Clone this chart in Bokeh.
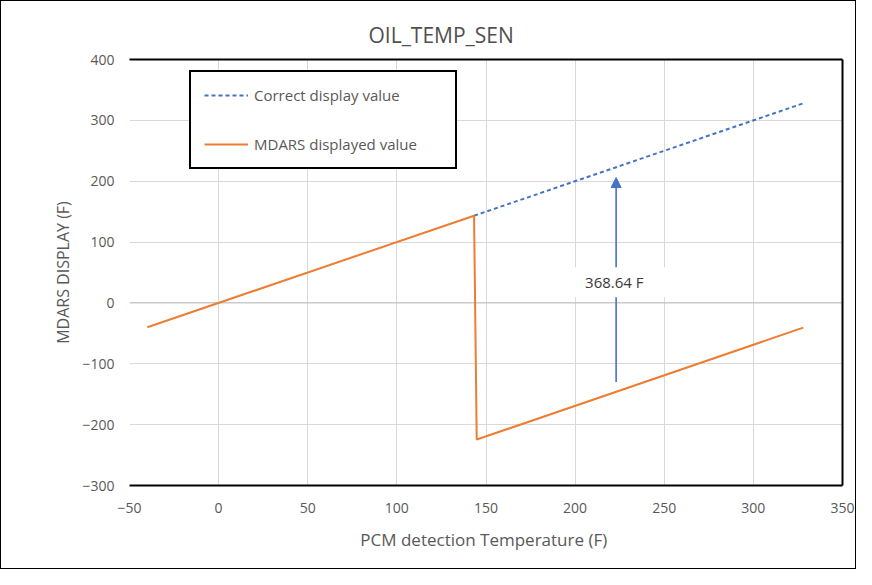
from bokeh.plotting import figure
from bokeh.models import (FixedTicker, Span, Arrow, NormalHead, Label, Legend, LegendItem, LinearAxis)
from bokeh.embed import file_html
from bokeh.resources import INLINE

# ---- data ----
correct_x = [143.3, 328]
correct_y = [143.3, 328]

mdars_x = [-40, 143.3, 144.8, 328]
mdars_y = [-40, 143.3, -224.5, -40.6]

arrow_x = 223
arrow_y_start = -130
arrow_y_end = 206
offset_label = "368.64 F"
offset_label_x = 222
offset_label_y = 34

x_ticks = [-50, 0, 50, 100, 150, 200, 250, 300, 350]
y_ticks = [-300, -200, -100, 0, 100, 200, 300, 400]

BLUE = "#4472C4"
ORANGE = "#ED7D31"
GRAY_TXT = "#595959"
FONT = "Open Sans"

p = figure(width=856, height=569, output_backend="svg", toolbar_location=None,
           x_range=(-50, 350), y_range=(-300, 400),
           min_border_left=128, min_border_right=15, min_border_top=58, min_border_bottom=85,
           title="OIL_TEMP_SEN")
p.styles = {"border": "1px solid black"}

p.title.align = "left"
p.title.offset = 239
p.title.text_font = FONT
p.title.text_font_size = "21px"
p.title.text_font_style = "normal"
p.title.text_color = "#505050"
p.title.standoff = 21

p.outline_line_color = None
p.background_fill_color = "white"
p.border_fill_color = "white"

p.xaxis.ticker = FixedTicker(ticks=x_ticks)
p.yaxis.ticker = FixedTicker(ticks=y_ticks)
for ax in (p.xaxis, p.yaxis):
    ax.major_tick_line_color = None
    ax.minor_tick_line_color = None
    ax.major_tick_out = 0
    ax.major_tick_in = 0
    ax.major_label_text_font = FONT
    ax.major_label_text_font_size = "14px"
    ax.major_label_text_color = GRAY_TXT
    ax.axis_label_text_font = FONT
    ax.axis_label_text_font_style = "normal"
    ax.axis_label_text_color = GRAY_TXT

p.xaxis.axis_label = "PCM detection Temperature  (F)"
p.yaxis.axis_label = "MDARS DISPLAY (F)"
p.xaxis.axis_label_text_font_size = "17px"
p.yaxis.axis_label_text_font_size = "16px"
p.xaxis.axis_line_color = "black"
p.xaxis.axis_line_width = 2
p.yaxis.axis_line_color = None
p.xaxis.major_label_standoff = 17
p.xaxis.axis_label_standoff = 12
p.yaxis.major_label_standoff = 15
p.yaxis.axis_label_standoff = 5

# black frame lines on top and right
for side in ("above", "right"):
    ax = LinearAxis(ticker=FixedTicker(ticks=[]), axis_line_color="black", axis_line_width=2,
                    major_tick_line_color=None, minor_tick_line_color=None,
                    major_tick_out=0, major_tick_in=0, major_label_standoff=0,
                    major_label_text_font_size="0px", axis_label=None)
    p.add_layout(ax, side)

p.grid.grid_line_color = "#D9D9D9"
p.grid.grid_line_width = 1

p.add_layout(Span(location=0, dimension="width", line_color="#BFBFBF", line_width=1, level="underlay"))

r_correct = p.line(correct_x, correct_y, line_color=BLUE, line_width=2, line_dash="4 3")
r_mdars = p.line(mdars_x, mdars_y, line_color=ORANGE, line_width=2)

p.add_layout(Arrow(end=NormalHead(size=10, fill_color=BLUE, line_color=BLUE),
                   x_start=arrow_x, y_start=arrow_y_start, x_end=arrow_x, y_end=arrow_y_end,
                   line_color=BLUE, line_width=1.6))
p.add_layout(Label(x=offset_label_x, y=offset_label_y, text=offset_label,
                   text_align="center", text_baseline="middle",
                   text_font=FONT, text_font_size="15px", text_color="#3a3a3a",
                   background_fill_color="white", padding=(24, 5)))

legend = Legend(items=[LegendItem(label="Correct display value", renderers=[r_correct]),
                       LegendItem(label="MDARS displayed value", renderers=[r_mdars])],
                location=(60, 426 - 12 - 95 - 3), margin=0, padding=13,
                spacing=29, label_height=18, glyph_height=18, glyph_width=44,
                label_width=188, label_standoff=6,
                border_line_color="black", border_line_width=2, border_line_alpha=1.0,
                label_text_font=FONT, label_text_font_size="15px", label_text_color=GRAY_TXT,
                background_fill_color="white", background_fill_alpha=1.0)
p.add_layout(legend, "center")

open("out.html", "w").write(file_html(p, INLINE))
